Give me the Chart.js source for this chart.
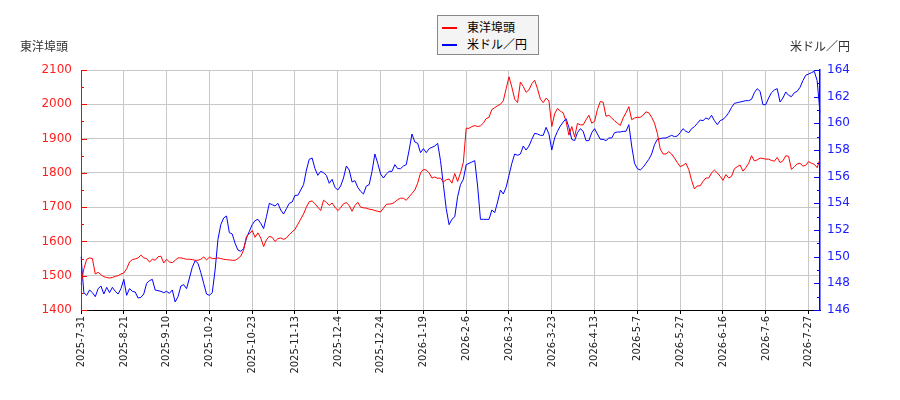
<!DOCTYPE html>
<html>
<head>
<meta charset="utf-8">
<script src="https://cdn.jsdelivr.net/npm/chart.js@4/dist/chart.umd.min.js"></script>
<style>
body { margin: 0; background: #fff; }
#wrap { position: relative; width: 900px; height: 400px; font-family: "DejaVu Sans", "Noto Sans CJK JP", sans-serif; }
#chart { position: absolute; left: 0; top: 0; }
.axisTitle { position: absolute; top: 38px; font-size: 12px; color: #333; font-family: "Noto Sans CJK JP", sans-serif; line-height: 16px; }
#legend { position: absolute; left: 437px; top: 15px; width: 102px; height: 40px; background: #f4f4f4; border: 1px solid #888; box-sizing: border-box; }
.item { position: absolute; left: 4px; height: 18px; font-size: 12px; color: #000; font-family: "Noto Sans CJK JP", sans-serif; line-height: 18px; }
.item span { display: inline-block; width: 15px; height: 2px; vertical-align: middle; margin-right: 10px; position: relative; top: -1px; }
</style>
</head>
<body>
<div id="wrap">
<canvas id="chart" width="900" height="400"></canvas>
<div class="axisTitle" style="left:20px;">東洋埠頭</div>
<div class="axisTitle" style="right:50px;">米ドル／円</div>
<div id="legend">
<div class="item" style="top:2px;"><span style="background:#ff0000;"></span>東洋埠頭</div>
<div class="item" style="top:19px;"><span style="background:#0000ff;"></span>米ドル／円</div>
</div>
</div>
<script>
// tick labels, one every 15 trading days
const tickLabels = [
"2025-7-31", "2025-8-21", "2025-9-10", "2025-10-2", "2025-10-23", "2025-11-13",
"2025-12-4", "2025-12-24", "2026-1-19", "2026-2-6", "2026-3-2", "2026-3-23",
"2026-4-13", "2026-5-7", "2026-5-27", "2026-6-16", "2026-7-6", "2026-7-27"
];
const tickEvery = 15;

// 東洋埠頭 (left axis)
const stockPrice = [
1475, 1520, 1548, 1552, 1550, 1505, 1510, 1503, 1497, 1495, 1493, 1495, 1498, 1500, 1505, 1508,
1520, 1540, 1547, 1549, 1552, 1560, 1552, 1550, 1540, 1548, 1545, 1555, 1557, 1537, 1548,
1540, 1538, 1545, 1552, 1552, 1550, 1548, 1548, 1547, 1545, 1545, 1548, 1555, 1546, 1554,
1550, 1550, 1552, 1550, 1548, 1547, 1546, 1545, 1545, 1550, 1557, 1575, 1615, 1622, 1632,
1612, 1625, 1610, 1585, 1605, 1615, 1612, 1600, 1608, 1610, 1606, 1610, 1620, 1628, 1635,
1650, 1665, 1680, 1700, 1716, 1718, 1710, 1700, 1690, 1720, 1714, 1705, 1712, 1700, 1690,
1698, 1710, 1713, 1705, 1688, 1705, 1714, 1700, 1698, 1697, 1694, 1693, 1690, 1688, 1686,
1697, 1708, 1709, 1710, 1715, 1722, 1726, 1726, 1720, 1730, 1740, 1750, 1770, 1800, 1810,
1808, 1800, 1785, 1788, 1784, 1785, 1773, 1780, 1782, 1770, 1798, 1775, 1800, 1830, 1930,
1930, 1935, 1938, 1935, 1937, 1945, 1958, 1962, 1985, 1990, 1996, 2000, 2010, 2045, 2080,
2050, 2015, 2005, 2065, 2052, 2035, 2042, 2060, 2070, 2045, 2015, 2005, 2018, 2010, 1935,
1972, 1988, 1980, 1975, 1950, 1910, 1935, 1905, 1944, 1940, 1940, 1955, 1968, 1945, 1950,
1985, 2008, 2006, 1965, 1968, 1960, 1952, 1945, 1938, 1960, 1975, 1993, 1955, 1960, 1962,
1962, 1968, 1978, 1975, 1962, 1945, 1915, 1870, 1855, 1855, 1862, 1855, 1843, 1830, 1818,
1822, 1828, 1810, 1778, 1753, 1762, 1762, 1775, 1785, 1785, 1800, 1808, 1800, 1790, 1778,
1795, 1785, 1790, 1812, 1818, 1823, 1805, 1815, 1828, 1850, 1835, 1838, 1843, 1842, 1840,
1840, 1836, 1834, 1845, 1830, 1835, 1850, 1848, 1810, 1818, 1826, 1828, 1820, 1822, 1833,
1828, 1825, 1815, 1840
];

// 米ドル／円 (right axis)
const usdJpy = [
150.0, 147.3, 147.1, 147.5, 147.3, 147.0, 147.6, 147.8, 147.2, 147.7, 147.3, 147.7, 147.4, 147.2, 147.6, 148.3,
147.1, 147.6, 147.4, 147.35, 146.9, 146.95, 147.2, 148.0, 148.2, 148.3, 147.5, 147.45, 147.4, 147.3, 147.4,
147.25, 147.5, 146.6, 147.0, 147.8, 147.9, 147.6, 148.4, 149.2, 149.7, 149.5, 148.8, 148.0, 147.2, 147.1,
147.3, 149.0, 151.3, 152.4, 152.9, 153.05, 151.8, 151.7, 151.0, 150.5, 150.4, 150.6, 151.4, 151.9, 152.4,
152.7, 152.8, 152.5, 152.1, 153.0, 154.0, 153.9, 153.8, 154.0, 153.5, 153.2, 153.6, 154.0, 154.1, 154.6,
154.6, 155.0, 155.4, 156.5, 157.3, 157.4, 156.6, 156.1, 156.4, 156.3, 156.1, 155.5, 155.8, 155.2, 155.0,
155.3, 155.9, 156.8, 156.5, 155.6, 155.7, 155.2, 154.9, 154.7, 155.3, 155.4, 156.4, 157.7, 157.0, 156.2,
155.9, 156.2, 156.4, 156.4, 156.9, 156.6, 156.6, 156.8, 156.9, 158.0, 159.2, 158.6, 158.5, 157.8, 158.1,
157.8, 158.1, 158.2, 158.3, 158.5, 157.2, 155.4, 153.6, 152.4, 152.8, 153.0, 154.5, 155.4, 155.8, 156.9,
157.0, 157.1, 157.2, 155.3, 152.8, 152.8, 152.8, 152.8, 153.5, 153.3, 154.1, 155.0, 154.7, 155.2, 156.1,
157.0, 157.7, 157.6, 157.7, 158.3, 158.0, 158.3, 158.8, 159.25, 159.2, 159.1, 159.1, 159.7, 159.2, 158.0,
158.9, 159.4, 159.8, 160.1, 160.35, 159.7, 158.8, 158.7, 159.3, 159.6, 159.4, 158.7, 158.7, 159.3, 159.6,
159.2, 158.8, 158.8, 158.7, 158.9, 158.9, 159.3, 159.35, 159.35, 159.4, 159.4, 159.9, 158.3, 157.0, 156.6,
156.5, 156.7, 157.0, 157.3, 157.7, 158.4, 158.8, 158.85, 158.9, 158.9, 159.0, 159.1, 159.0, 159.05, 159.3,
159.6, 159.4, 159.3, 159.6, 159.75, 160.0, 160.25, 160.2, 160.4, 160.3, 160.6, 160.2, 159.9, 160.2, 160.3,
160.5, 160.8, 161.2, 161.5, 161.55, 161.6, 161.65, 161.7, 161.7, 161.8, 162.3, 162.6, 162.4, 161.4, 161.4,
161.9, 162.3, 162.5, 162.6, 161.6, 161.9, 162.35, 162.1, 162.0, 162.3, 162.4, 162.7, 163.2, 163.6, 163.7,
163.8, 163.9, 163.2, 160.8
];

const gridGray = "#c8c8c8";

// short tick marks drawn inside the plot on both value axes
const innerTicks = {
    id: "innerTicks",
    afterDraw(chart) {
        const ctx = chart.ctx;
        const yl = chart.scales.y;
        const yr = chart.scales.y1;
        ctx.save();
        ctx.lineWidth = 1;
        ctx.strokeStyle = "#ff0000";
        for (let v = yl.min; v <= yl.max; v += 50) {
            const p = Math.round(yl.getPixelForValue(v)) + 0.5;
            const len = v % 100 === 0 ? 6 : 3;
            ctx.beginPath();
            ctx.moveTo(yl.right, p);
            ctx.lineTo(yl.right + len, p);
            ctx.stroke();
        }
        ctx.strokeStyle = "#0000ff";
        for (let v = yr.min; v <= yr.max; v += 1) {
            const p = Math.round(yr.getPixelForValue(v)) + 0.5;
            const len = v % 2 === 0 ? 6 : 3;
            ctx.beginPath();
            ctx.moveTo(yr.left - len, p);
            ctx.lineTo(yr.left, p);
            ctx.stroke();
        }
        ctx.restore();
    }
};

Chart.defaults.font.family = "'DejaVu Sans', sans-serif";
Chart.defaults.font.size = 11;

new Chart(document.getElementById("chart").getContext("2d"), {
    type: "line",
    data: {
        labels: stockPrice.map((v, i) => i),
        datasets: [
            {
                label: "東洋埠頭",
                data: stockPrice,
                borderColor: "#ff0000",
                borderWidth: 1,
                pointRadius: 0,
                tension: 0,
                yAxisID: "y"
            },
            {
                label: "米ドル／円",
                data: usdJpy,
                borderColor: "#0000ff",
                borderWidth: 1,
                pointRadius: 0,
                tension: 0,
                yAxisID: "y1"
            }
        ]
    },
    options: {
        responsive: false,
        animation: false,
        layout: { padding: { top: 70, left: 0, right: 0, bottom: 0 } },
        plugins: {
            legend: { display: false },
            tooltip: { enabled: false }
        },
        scales: {
            x: {
                offset: false,
                afterFit: (s) => { s.height = 90; },
                border: { color: "#000", width: 1 },
                grid: {
                    color: (c) => c.index % tickEvery === 0 ? gridGray : "rgba(0,0,0,0)",
                    tickColor: (c) => c.index % tickEvery === 0 ? "#000" : "rgba(0,0,0,0)",
                    tickLength: 4
                },
                ticks: {
                    autoSkip: false,
                    minRotation: 90,
                    maxRotation: 90,
                    padding: 2,
                    color: "#222",
                    font: { family: "'DejaVu Sans Condensed', 'DejaVu Sans', sans-serif", size: 11 },
                    callback: (v, i) => i % tickEvery === 0 ? tickLabels[i / tickEvery] : ""
                }
            },
            y: {
                position: "left",
                min: 1400,
                max: 2100,
                afterFit: (s) => { s.width = 81; },
                border: { color: "#ff0000", width: 1 },
                grid: { color: gridGray, drawTicks: false },
                ticks: {
                    stepSize: 100,
                    color: "#ff2020",
                    padding: 9,
                    font: { size: 12 },
                    callback: (v) => String(v)
                }
            },
            y1: {
                position: "right",
                min: 146,
                max: 164,
                afterFit: (s) => { s.width = 80; },
                border: { color: "#0000ff", width: 1.5 },
                grid: { drawOnChartArea: false, drawTicks: false },
                ticks: {
                    stepSize: 2,
                    color: "#2020ff",
                    padding: 7,
                    font: { size: 12 },
                    callback: (v) => String(v)
                }
            }
        }
    },
    plugins: [innerTicks]
});
</script>
</body>
</html>
